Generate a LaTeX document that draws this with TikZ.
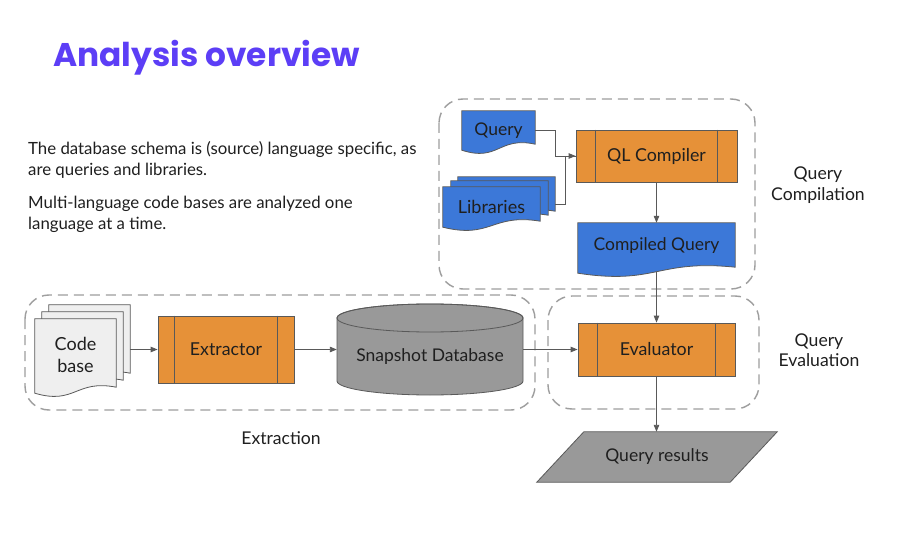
\documentclass[tikz,border=0pt]{standalone}
\usepackage{fontspec}
\setmainfont{Lato}
\newfontfamily\titlefont{Poppins}
\usetikzlibrary{arrows.meta,calc}
\definecolor{orng}{HTML}{E69138}
\definecolor{blu}{HTML}{3C78D8}
\definecolor{gfill}{HTML}{999999}
\definecolor{lfill}{HTML}{EFEFEF}
\definecolor{bord}{HTML}{595959}
\definecolor{dash}{HTML}{9E9E9E}
\definecolor{ttl}{HTML}{5C3EF6}
\definecolor{txt}{HTML}{1F1F1F}
\newcommand\docpath[2]{%
  \draw[shapeline,fill=#2] (#1.north west) -- (#1.north east) -- ([yshift=6pt]#1.south east)
    .. controls ([yshift=14pt]#1.south) and ([yshift=-12pt]#1.south) .. (#1.south west) -- cycle;}
\newcommand\procbars[2]{%
  \draw[shapeline] ([xshift=#2]#1.north west) -- ([xshift=#2]#1.south west);
  \draw[shapeline] ([xshift=-#2]#1.north east) -- ([xshift=-#2]#1.south east);}
\begin{document}
\begin{tikzpicture}[x=1pt,y=-1pt,
  shapeline/.style={draw=bord,line width=0.8pt},
  anch/.style={inner sep=0pt,draw=none,text=txt,font=\fontsize{17.5}{21}\selectfont},
  proc/.style={draw=bord,fill=orng,line width=0.8pt,inner sep=0pt,text=txt,font=\fontsize{17.8}{21}\selectfont},
  conn/.style={draw=bord,line width=0.9pt},
  arr/.style={conn,-{Triangle[length=7pt,width=5.5pt]}},
  group/.style={draw=dash,line width=1.4pt,dash pattern=on 10pt off 6pt,rounded corners=24pt},
  lbl/.style={text=txt,font=\fontsize{17.6}{20.5}\selectfont,align=center,inner sep=0pt},
  body/.style={text=txt,font=\fontsize{16.8}{20.5}\selectfont,align=left,inner sep=0pt,anchor=west}]
\useasboundingbox[fill=white] (0,0) rectangle (916,556);

% title and text
\node[anchor=base west,inner sep=0pt,text=ttl,font=\titlefont\bfseries\fontsize{32.8}{36}\selectfont] (title) at (53,67) {Analysis overview};
\node[body] (p1) at (28,160) {The database schema is (source) language specific, as\\are queries and libraries.};
\node[body] (p2) at (28,214.5) {Multi-language code bases are analyzed one\\language at a time.};

% group boxes
\draw[group] (439,99) rectangle (755,289);
\draw[group] (25,295) rectangle (535,410);
\draw[group] (548,296) rectangle (759,409);
\node[lbl] (lqc) at (818,185) {Query\\Compilation};
\node[lbl] (lqe) at (819,350) {Query\\Evaluation};
\node[lbl] (lex) at (281,438) {Extraction};

% query compilation
\node[anch,minimum width=73pt,minimum height=39pt] (q) at (498.5,130.5) {};
\docpath{q}{blu}
\node[anch] at (q) {Query};
\node[anch,minimum width=97pt,minimum height=40pt] (lib3) at (506.5,197) {};
\node[anch,minimum width=97pt,minimum height=40pt] (lib2) at (499.5,201) {};
\node[anch,minimum width=97pt,minimum height=40pt] (lib) at (491.5,207) {};
\docpath{lib3}{blu}
\docpath{lib2}{blu}
\docpath{lib}{blu}
\node[anch,font=\fontsize{18}{21}\selectfont] at (lib) {Libraries};
\node[proc,minimum width=161pt,minimum height=52pt] (qlc) at (656.5,156) {QL Compiler};
\procbars{qlc}{20pt}
\node[anch,minimum width=157pt,minimum height=50pt] (cq) at (656.5,248) {};
\docpath{cq}{blu}
\node[anch] at ([yshift=2pt]cq) {Compiled Query};

% extraction
\node[anch,minimum width=81pt,minimum height=74pt] (cb3) at (89.5,342) {};
\node[anch,minimum width=81pt,minimum height=74pt] (cb2) at (82.5,349) {};
\node[anch,minimum width=81pt,minimum height=74pt] (cb) at (75.5,356) {};
\docpath{cb3}{lfill}
\docpath{cb2}{lfill}
\docpath{cb}{lfill}
\node[anch,align=center,font=\fontsize{18}{22}\selectfont] at ([yshift=1pt]cb) {Code\\base};
\node[proc,minimum width=136pt,minimum height=67pt] (ext) at (226,349.5) {Extractor};
\procbars{ext}{17pt}
\node[anch,minimum width=186pt,minimum height=91pt] (db) at (430,349.5) {};
\draw[shapeline,fill=gfill] (337,318) -- (337,381) arc[start angle=180,end angle=360,x radius=93pt,y radius=14pt]
  -- (523,318) arc[start angle=0,end angle=180,x radius=93pt,y radius=14pt] -- cycle;
\draw[shapeline] (430,318) ellipse[x radius=93pt,y radius=14pt];
\node[anch] (dbt) at (430,357) {Snapshot Database};

% evaluation
\node[proc,minimum width=157pt,minimum height=53pt] (ev) at (656.5,349.5) {Evaluator};
\procbars{ev}{20pt}
\node[anch,minimum width=193pt,minimum height=50pt] (res) at (657,457) {};
\draw[shapeline,fill=gfill] ([xshift=23.5pt]res.north west) -- ([xshift=23.5pt]res.north east)
  -- ([xshift=-23.5pt]res.south east) -- ([xshift=-23.5pt]res.south west) -- cycle;
\node[anch] at (res) {Query results};

% connectors
\draw[conn] ([yshift=-7pt]lib3.east) -- ++(10,0) |- (qlc.west);
\draw[arr] (q.east) -- ++(20,0) |- (qlc.west);
\draw[arr] (qlc.south) -- (cq.north);
\draw[arr] ([yshift=1.5pt]cq.south) -- (ev.north);
\draw[arr] (ext.west -| cb3.east) -- (ext.west);
\draw[arr] (ext.east) -- (ext.east -| db.west);
\draw[arr] (db.east) -- (ev.west);
\draw[arr] (ev.south) -- (ev.south |- res.north);
\end{tikzpicture}
\end{document}
